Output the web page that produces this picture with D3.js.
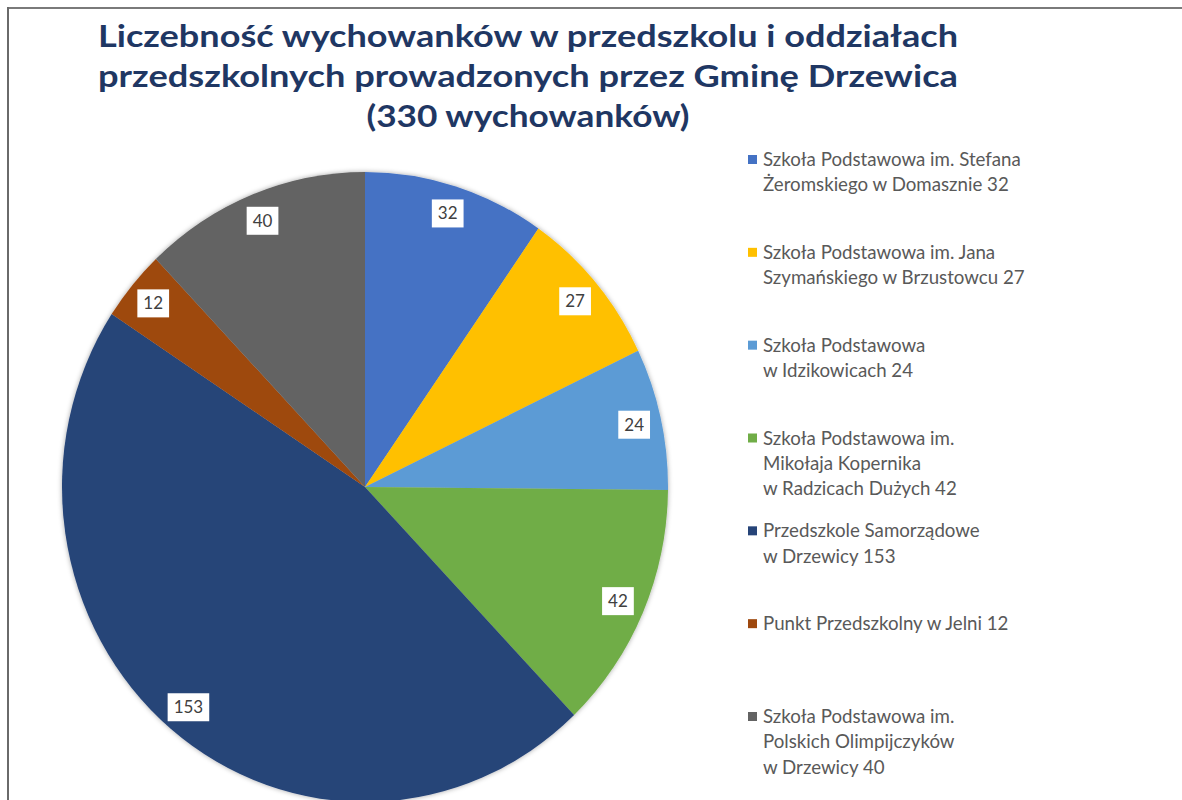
<!DOCTYPE html>
<html><head><meta charset="utf-8">
<script src="https://cdn.jsdelivr.net/npm/d3@7"></script>
<style>html,body{margin:0;padding:0;background:#fff;}svg{display:block;}</style>
</head><body>
<svg id="chart" width="1182" height="800"></svg>
<script>
const titleLines = ["Liczebność wychowanków w przedszkolu i oddziałach",
  "przedszkolnych prowadzonych przez Gminę Drzewica",
  "(330 wychowanków)"];
const categories = [
  "Szkoła Podstawowa im. Stefana\nŻeromskiego w Domasznie",
  "Szkoła Podstawowa im. Jana\nSzymańskiego w Brzustowcu",
  "Szkoła Podstawowa\nw Idzikowicach",
  "Szkoła Podstawowa im.\nMikołaja Kopernika\nw Radzicach Dużych",
  "Przedszkole Samorządowe\nw Drzewicy",
  "Punkt Przedszkolny w Jelni",
  "Szkoła Podstawowa im.\nPolskich Olimpijczyków\nw Drzewicy"
];
const values = [32, 27, 24, 42, 153, 12, 40];
const colors = ["#4472C4", "#FFC000", "#5B9BD5", "#70AD47", "#264478", "#9E480E", "#636363"];

const svg = d3.select("#chart");
const defs = svg.append("defs");
const f = defs.append("filter").attr("id","sh").attr("x","-10%").attr("y","-10%").attr("width","120%").attr("height","120%");
f.append("feDropShadow").attr("dx",0).attr("dy",0).attr("stdDeviation",2.5).attr("flood-color","#000").attr("flood-opacity",0.35);

// frame
svg.append("line").attr("x1",8).attr("y1",8).attr("x2",1182).attr("y2",8).attr("stroke","#7a7a7a").attr("stroke-width",2);
svg.append("line").attr("x1",8).attr("y1",7).attr("x2",8).attr("y2",800).attr("stroke","#6a6a6a").attr("stroke-width",2);

// title
const tg = svg.append("g");
const titleBase = [47, 87, 127];
const titleW = [860, 860, 323];
titleLines.forEach((t,i)=>{
  tg.append("text").attr("x",528).attr("y",titleBase[i]).attr("text-anchor","middle")
    .attr("font-family","Lato").attr("font-weight",700).attr("font-size",30)
    .attr("fill","#1f3763").attr("textLength",titleW[i]).attr("lengthAdjust","spacingAndGlyphs").text(t);
});

// pie
const cx = 365, cy = 487, R = 303, sy = 1.04;
const pie = d3.pie().sort(null).value(d=>d)(values);
const arc = d3.arc().innerRadius(0).outerRadius(R);
const pg = svg.append("g").attr("transform",`translate(${cx},${cy}) scale(1,${sy})`);
pg.append("g").attr("filter","url(#sh)").selectAll("path").data(pie).join("path")
  .attr("d",arc).attr("fill",(d,i)=>colors[i]);

// data labels (inside end)
const labelArc = d3.arc().innerRadius(R*0.91).outerRadius(R*0.91);
const lg = svg.append("g");
pie.forEach((d,i)=>{
  const [x,y] = labelArc.centroid(d);
  const px = cx + x, py = cy + y*sy;
  const g = lg.append("g").attr("transform",`translate(${px},${py})`);
  const t = g.append("text").attr("text-anchor","middle").attr("y",6)
    .attr("font-family","Lato").attr("font-size",17).attr("fill","#404040").text(d.data);
  const w = t.node().getComputedTextLength() + 12;
  g.insert("rect","text").attr("x",-w/2).attr("y",-14).attr("width",w).attr("height",28).attr("fill","#fff");
});

// legend
const legY = d3.scalePoint().domain(d3.range(categories.length)).range([160, 717]);
const lgd = svg.append("g");
const probe = lgd.append("text").attr("font-family","Lato").attr("font-size",18).text("Szkoła Podstawowa im. Stefana");
const fs = 18 * 258 / probe.node().getComputedTextLength();
probe.remove();
categories.forEach((c,i)=>{
  const y0 = legY(i);
  lgd.append("rect").attr("x",748).attr("y",y0-5).attr("width",9).attr("height",9).attr("fill",colors[i]);
  const lines = (c + " " + values[i]).split("\n");
  lines.forEach((ln,j)=>{
    lgd.append("text").attr("x",763).attr("y",y0 + j*25.3 + 6)
      .attr("font-family","Lato").attr("font-size",fs).attr("fill","#595959").text(ln);
  });
});
</script>
</body></html>
